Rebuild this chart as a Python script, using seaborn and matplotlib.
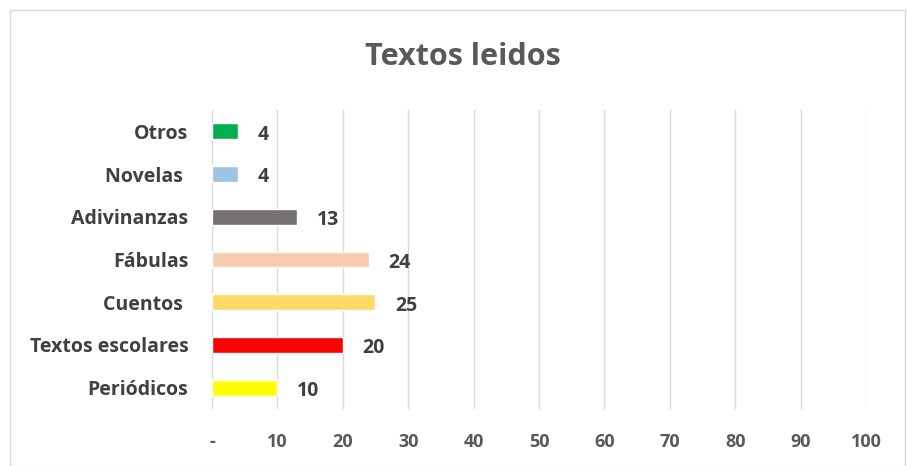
import matplotlib.pyplot as plt
import matplotlib.ticker as mticker
import seaborn as sns
import pandas as pd

categorias = ['Otros', 'Novelas ', 'Adivinanzas', 'Fábulas', 'Cuentos ', 'Textos escolares', 'Periódicos']
valores = [4, 4, 13, 24, 25, 20, 10]
colores = ['#00B050', '#9DC3E6', '#767171', '#F8CBAD', '#FFD966', '#FF0000', '#FFFF00']
ticks = [0, 10, 20, 30, 40, 50, 60, 70, 80, 90, 100]

df = pd.DataFrame({'Tipo': categorias, 'Cantidad': valores})

sns.set_style('white')
plt.rcParams['font.family'] = ['Open Sans', 'DejaVu Sans']

fig = plt.figure(figsize=(9.07, 4.66), dpi=100)
ax = fig.add_axes([0.2337, 0.1223, 0.7211, 0.6417])

sns.barplot(data=df, x='Cantidad', y='Tipo', hue='Tipo', palette=colores,
            orient='h', width=0.37, legend=False, ax=ax, saturation=1)

ax.set_xlim(0, 100)
ax.set_ylim(6.5, -0.5)
ax.set_xticks(ticks)
ax.xaxis.set_major_formatter(mticker.FuncFormatter(lambda v, p: '-' if v == 0 else f'{v:.0f}'))
ax.grid(axis='x', color='#d9d9d9', linewidth=1)
ax.set_axisbelow(True)
for s in ax.spines.values():
    s.set_visible(False)
ax.tick_params(axis='x', length=0, pad=17, labelsize=13, labelcolor='#595959')
ax.tick_params(axis='y', length=0, pad=17, labelsize=14, labelcolor='#404040')
for lab in ax.get_xticklabels() + ax.get_yticklabels():
    lab.set_fontweight('bold')
ax.set_xlabel('')
ax.set_ylabel('')

for i, v in enumerate(valores):
    ax.text(v + 3.0, i + 0.08, f'{v}', va='center', ha='left', fontsize=14,
            fontweight='bold', color='#404040')

fig.text(0.51, 0.878, 'Textos leidos', ha='center', va='center', fontsize=22,
         fontweight='bold', color='#595959')

border = plt.Rectangle((0.011, 0.0), 0.987, 0.978, transform=fig.transFigure,
                       fill=False, edgecolor='#d9d9d9', linewidth=1)
fig.patches.append(border)

fig.savefig('out.png', dpi=100)
